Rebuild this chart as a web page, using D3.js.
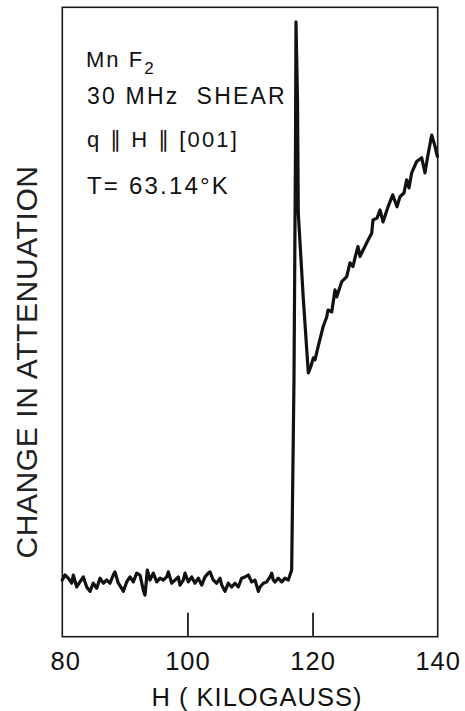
<!DOCTYPE html>
<html>
<head>
<meta charset="utf-8">
<script src="https://cdn.jsdelivr.net/npm/d3@7"></script>
<style>
  html, body { margin: 0; padding: 0; background: #fff; }
  svg { display: block; font-family: "Liberation Sans", Arial, sans-serif; }
</style>
</head>
<body>
<div id="chart"></div>
<script>
// field H (kilogauss) and change in attenuation (arbitrary units, 0-100 = full frame height)
const fieldKG = [
  80.00, 80.43, 80.96, 81.50, 81.76, 82.30, 82.83, 83.36, 83.90, 84.43,
  84.95, 85.50, 86.03, 86.55, 87.10, 87.62, 88.15, 88.42, 88.95, 89.49,
  89.75, 90.29, 90.82, 91.35, 91.89, 92.42, 92.95, 93.22, 93.59, 94.02,
  94.54, 95.09, 95.62, 96.14, 96.69, 96.94, 97.49, 98.01, 98.54, 98.81,
  99.34, 99.61, 100.14, 100.68, 101.21, 101.74, 102.28, 102.81, 103.33, 103.61,
  104.13, 104.68, 105.21, 105.48, 106.00, 106.53, 107.07, 107.60, 108.13, 108.67,
  109.20, 109.73, 110.27, 110.80, 111.33, 111.60, 112.13, 112.67, 113.20, 113.47,
  113.72, 113.99, 114.52, 115.07, 115.59, 116.12, 116.39, 116.66,
  117.03, 117.27, 117.35, 117.59, 117.72, 118.50, 119.32,
  119.75, 120.12, 120.39, 120.87, 121.67, 122.26, 122.47, 123.06, 123.59, 123.86,
  124.66, 125.46, 125.98, 126.46, 126.78, 127.26, 127.58, 128.06, 128.86, 129.45,
  129.66, 130.30, 130.78, 131.26, 132.06, 132.81, 133.49, 133.97, 134.61, 135.04,
  135.41, 135.84, 136.64, 137.44, 137.97, 138.40, 139.04, 139.57, 139.94
];
const attenuation = [
  9.0, 9.8, 9.3, 8.5, 9.8, 7.9, 8.7, 9.5, 7.9, 7.2,
  8.5, 7.7, 9.3, 8.5, 9.0, 8.5, 9.8, 10.3, 8.5, 7.7,
  7.2, 8.7, 9.5, 8.7, 10.1, 9.8, 7.4, 6.6, 10.6, 9.0,
  10.1, 8.7, 9.3, 9.0, 9.5, 10.3, 8.5, 9.0, 9.5, 8.2,
  9.0, 10.1, 8.7, 9.5, 8.5, 9.3, 8.2, 9.5, 10.1, 10.3,
  9.0, 8.5, 9.3, 8.2, 7.2, 8.5, 7.9, 8.5, 7.9, 9.3,
  9.5, 9.8, 8.7, 9.0, 7.2, 7.9, 8.5, 8.7, 9.5, 10.1,
  9.0, 8.7, 9.3, 8.7, 9.3, 9.0, 9.8, 10.6,
  40.8, 77.3, 97.7, 85.3, 67.3, 54.0, 41.9,
  43.0, 44.3, 44.0, 46.0, 49.2, 50.8, 51.9, 51.6, 55.1, 54.0,
  56.4, 57.2, 59.4, 58.8, 60.2, 62.0, 60.4, 61.4, 63.0, 64.1,
  66.2, 66.5, 67.8, 65.9, 68.3, 70.2, 68.3, 69.9, 70.5, 72.6,
  71.3, 73.7, 75.5, 76.1, 73.7, 76.3, 79.7, 77.9, 76.3
];
const xTicks = [80, 100, 120, 140];
const xTickLabels = ['80', '100', '120', '140'];
const notes = ['30 MHz\u00a0 SHEAR', 'q ∥ H ∥ [001]', 'T= 63.14°K'];

const W = 465, H = 711;
const margin = { top: 7.3, right: 27.3, bottom: 74.3, left: 62.3 };
const width = W - margin.left - margin.right;
const height = H - margin.top - margin.bottom;

const svg = d3.select('#chart').append('svg')
  .attr('width', W).attr('height', H);
const g = svg.append('g').attr('transform', `translate(${margin.left},${margin.top})`);

const x = d3.scaleLinear().domain([80, 140]).range([0, width]);
const y = d3.scaleLinear().domain([0, 100]).range([height, 0]);

// frame
g.append('rect')
  .attr('width', width).attr('height', height)
  .attr('fill', 'none').attr('stroke', '#1a1a1a').attr('stroke-width', 1.6);

// bottom axis: inward ticks, no domain line
const xAxis = g.append('g').attr('transform', `translate(0,${height})`)
  .call(d3.axisBottom(x).tickValues(xTicks).tickSize(-24).tickPadding(15)
    .tickFormat((d, i) => xTickLabels[i]));
xAxis.select('.domain').remove();
xAxis.selectAll('.tick line').attr('stroke', '#1a1a1a').attr('stroke-width', 1.8)
  .filter(d => d === 80 || d === 140).remove();
xAxis.selectAll('.tick text')
  .attr('fill', '#111').style('font-size', '25.5px').style('letter-spacing', '1px');
xAxis.selectAll('.tick text').filter(d => d === 80).attr('dx', 3);

// trace
const line = d3.line().x(d => x(d[0])).y(d => y(d[1]));
g.append('path')
  .datum(fieldKG.map((h, i) => [h, attenuation[i]]))
  .attr('d', line)
  .attr('fill', 'none').attr('stroke', '#111')
  .attr('stroke-width', 3.2).attr('stroke-linejoin', 'round').attr('stroke-linecap', 'round');

// axis titles
svg.append('text')
  .attr('x', 257).attr('y', 706)
  .attr('text-anchor', 'middle').attr('fill', '#111')
  .style('font-size', '25.5px').style('letter-spacing', '1px')
  .text('H ( KILOGAUSS)');

svg.append('text')
  .attr('transform', 'translate(37,362) rotate(-90)')
  .attr('text-anchor', 'middle').attr('fill', '#222')
  .style('font-size', '30px').style('letter-spacing', '0.6px')
  .text('CHANGE IN ATTENUATION');

// annotation block
const ann = svg.append('g').attr('fill', '#111');
const mn = ann.append('text').attr('x', 86).attr('y', 67)
  .style('font-size', '22px').style('letter-spacing', '2px');
mn.append('tspan').text('Mn F');
mn.append('tspan').attr('dy', 7).style('font-size', '17px').text('2');

ann.append('text').attr('x', 87).attr('y', 104)
  .style('font-size', '23px').style('letter-spacing', '2.2px')
  .text(notes[0]);
ann.append('text').attr('x', 87).attr('y', 147)
  .style('font-size', '22px').style('letter-spacing', '2.2px')
  .text(notes[1]);
ann.append('text').attr('x', 87).attr('y', 194)
  .style('font-size', '24px').style('letter-spacing', '2.2px')
  .text(notes[2]);
</script>
</body>
</html>
